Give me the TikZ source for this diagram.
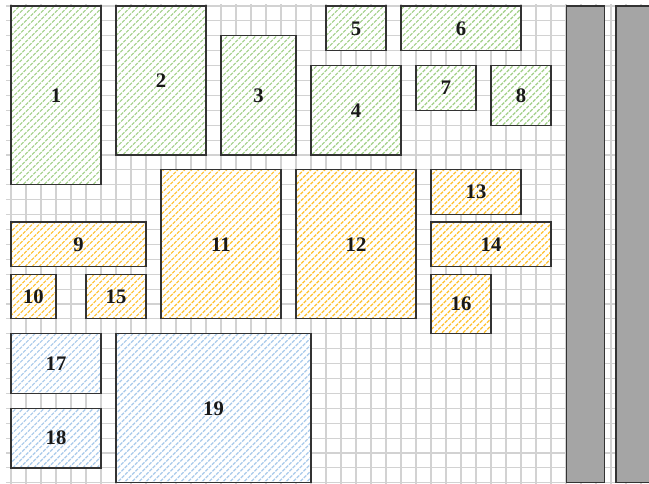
\documentclass[tikz,border=0pt]{standalone}
\usepackage{fontspec}
\setmainfont{Liberation Serif}
\definecolor{gridc}{HTML}{D2D2D2}
\definecolor{edgec}{HTML}{333333}
\definecolor{hgreen}{HTML}{A2D088}
\definecolor{horange}{HTML}{FFC12E}
\definecolor{hblue}{HTML}{A9CAEB}
\definecolor{barc}{HTML}{A5A5A5}
\def\greenboxes{0/0/6/12/1, 7/0/13/10/2, 14/2/19/10/3, 20/4/26/10/4, 21/0/25/3/5, 26/0/34/3/6, 27/4/31/7/7, 32/4/36/8/8}
\def\orangeboxes{0/14.5/9/17.5/9, 0/18/3/21/10, 10/11/18/21/11, 19/11/27/21/12, 28/11/34/14/13, 28/14.5/36/17.5/14, 5/18/9/21/15, 28/18/32/22/16}
\def\blueboxes{0/22/6/26/17, 0/27/6/31/18, 7/22/20/32/19}
\tikzset{
  gridline/.style={draw=gridc, line width=0.8pt},
  hatchline/.style={line width=0.85pt, dash pattern=on 2.6pt off 0.9pt},
  boxline/.style={draw=edgec, line width=0.9pt},
  barbox/.style={fill=barc, draw=edgec, line width=1pt},
  lbl/.style={font=\fontsize{15.5}{18}\selectfont\bfseries, text=black!90, inner sep=0pt}
}
\begin{document}
\begin{tikzpicture}[x={(11.25pt,0)}, y={(0,-11.175pt)}]
\useasboundingbox (-0.7333,-0.4027) rectangle (42.5333,32.0805);
\fill[white] (-0.7333,-0.4027) rectangle (42.5333,32.0805);
\begin{scope}
\clip (-0.7333,-0.4027) rectangle (42.5333,32.0805);
% grid
\foreach \i in {0,...,42} \draw[gridline] (\i,-0.13) -- (\i,32.2);
\foreach \j in {0,...,32} \draw[gridline] (-0.3,\j) -- (42.6,\j);
% box interiors
\foreach \a/\b/\c/\d/\t in \greenboxes {\fill[white] (\a,\b) rectangle (\c,\d);}
\foreach \a/\b/\c/\d/\t in \orangeboxes {\fill[white] (\a,\b) rectangle (\c,\d);}
\foreach \a/\b/\c/\d/\t in \blueboxes {\fill[white] (\a,\b) rectangle (\c,\d);}
% hatching
\begin{scope}
\clip \foreach \a/\b/\c/\d/\t in \greenboxes {(\a,\b) rectangle (\c,\d)};
\foreach \k in {-72,...,92} \draw[hatchline, hgreen] ({\k*0.4667},33) -- ++(32.78,-33);
\end{scope}
\begin{scope}
\clip \foreach \a/\b/\c/\d/\t in \orangeboxes {(\a,\b) rectangle (\c,\d)};
\foreach \k in {-72,...,92} \draw[hatchline, horange] ({\k*0.4667},33) -- ++(32.78,-33);
\end{scope}
\begin{scope}
\clip \foreach \a/\b/\c/\d/\t in \blueboxes {(\a,\b) rectangle (\c,\d)};
\foreach \k in {-72,...,92} \draw[hatchline, hblue] ({\k*0.4667},33) -- ++(32.78,-33);
\end{scope}
% borders and labels
\foreach \a/\b/\c/\d/\t in \greenboxes {
  \draw[boxline] (\a,\b) rectangle (\c,\d);
  \node[lbl] (n\t) at ({(\a+\c)/2},{(\b+\d)/2}) {\t};
}
\foreach \a/\b/\c/\d/\t in \orangeboxes {
  \draw[boxline] (\a,\b) rectangle (\c,\d);
  \node[lbl] (n\t) at ({(\a+\c)/2},{(\b+\d)/2}) {\t};
}
\foreach \a/\b/\c/\d/\t in \blueboxes {
  \draw[boxline] (\a,\b) rectangle (\c,\d);
  \node[lbl] (n\t) at ({(\a+\c)/2},{(\b+\d)/2}) {\t};
}
% gray bars
\draw[barbox] (37.05,0) rectangle (39.55,32);
\draw[barbox] (40.33,0) rectangle (43,32);
\end{scope}
\end{tikzpicture}
\end{document}
